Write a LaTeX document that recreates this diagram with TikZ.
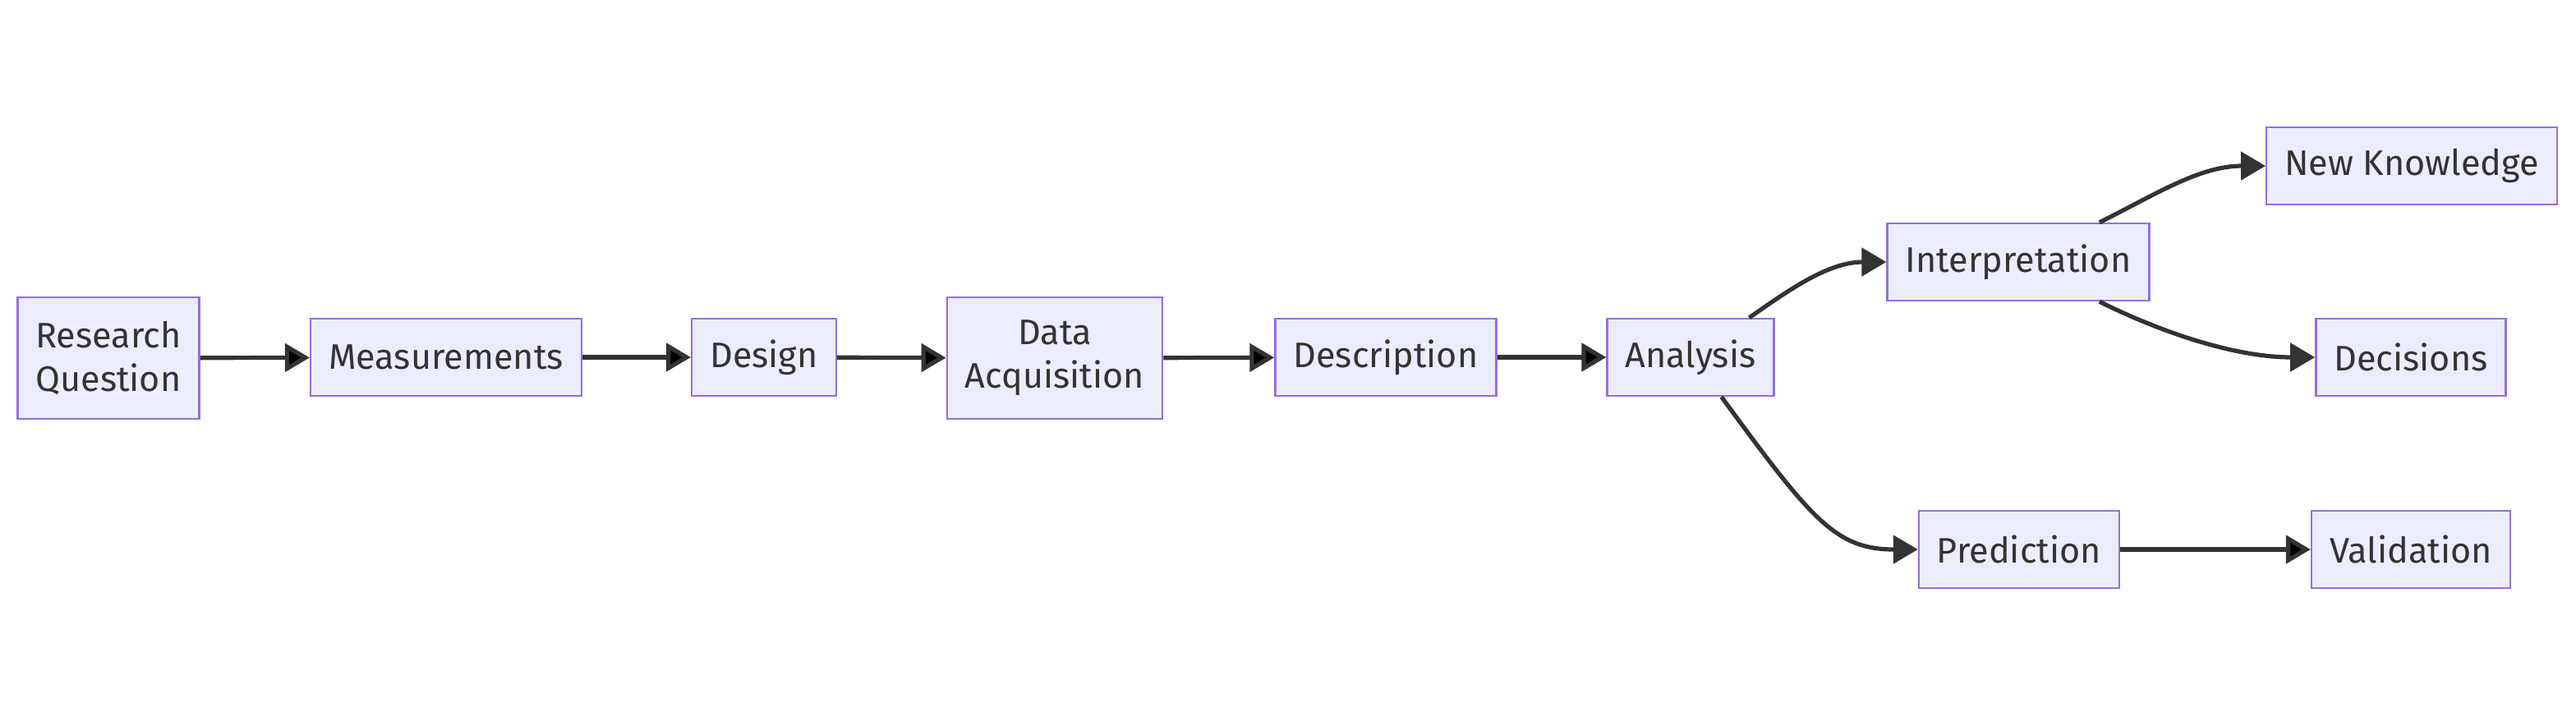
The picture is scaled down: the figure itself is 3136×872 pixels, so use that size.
\documentclass[tikz,border=0pt]{standalone}
\usepackage{fontspec}
\setmainfont{Fira Sans}
\usepackage{tikz}
\usetikzlibrary{arrows.meta}

\definecolor{boxfill}{HTML}{ECECFF}
\definecolor{boxline}{HTML}{9370DB}
\definecolor{arrowgray}{HTML}{333333}

\begin{document}
\begin{tikzpicture}[x=0.25pt, y=-0.25pt,
    box/.style={rectangle, draw=boxline, fill=boxfill, line width=0.6pt,
        inner xsep=5.5pt, inner ysep=0pt, minimum height=23.5pt,
        align=center, text=arrowgray,
        font=\fontsize{10.8}{13.25}\selectfont},
    tallbox/.style={box, minimum height=37pt},
    flow/.style={draw=arrowgray, line width=1.3pt,
        -{Triangle[length=7.5pt, width=8.5pt]}}]
%\tikzstyle{place}=[circle,draw=blue!50,fill=blue!20,thick,inner sep=0pt,minimum size=6mm]
\useasboundingbox (0,0) rectangle (3136,872);
\begin{scope}
    \node[tallbox] (rq) at (132,436) {Research\\Question};
    \node[box] (meas) at (543,435) {Measurements};
    \node[box] (des) at (930,435) {Design};
    \node[tallbox] (acq) at (1284,436) {Data\\Acquisition};
    \node[box] (desc) at (1687,435) {Description};
    \node[box] (ana) at (2058,435) {Analysis};
    \node[box] (int) at (2457,319) {Interpretation};
    \node[box] (nk) at (2936,202) {New Knowledge};
    \node[box] (dec) at (2935,435) {Decisions};
    \node[box] (pred) at (2458,669) {Prediction};
    \node[box] (val) at (2935,669) {Validation};

    \path [flow] (rq) edge (meas);
    \path [flow] (meas) edge (des);
    \path [flow] (des) edge (acq);
    \path [flow] (acq) edge (desc);
    \path [flow] (desc) edge (ana);
    \draw [flow] (ana.34) .. controls +(50,-35) and +(-70,0) .. (int.west);
    \draw [flow] (int.26) .. controls +(70,-35) and +(-80,0) .. (nk.west);
    \draw [flow] (int.-26) .. controls +(70,35) and +(-100,0) .. (dec.west);
    \draw [flow] (ana.-52) .. controls +(110,150) and +(-100,0) .. (pred.west);
    \path [flow] (pred) edge (val);
\end{scope}
\end{tikzpicture}
\end{document}
